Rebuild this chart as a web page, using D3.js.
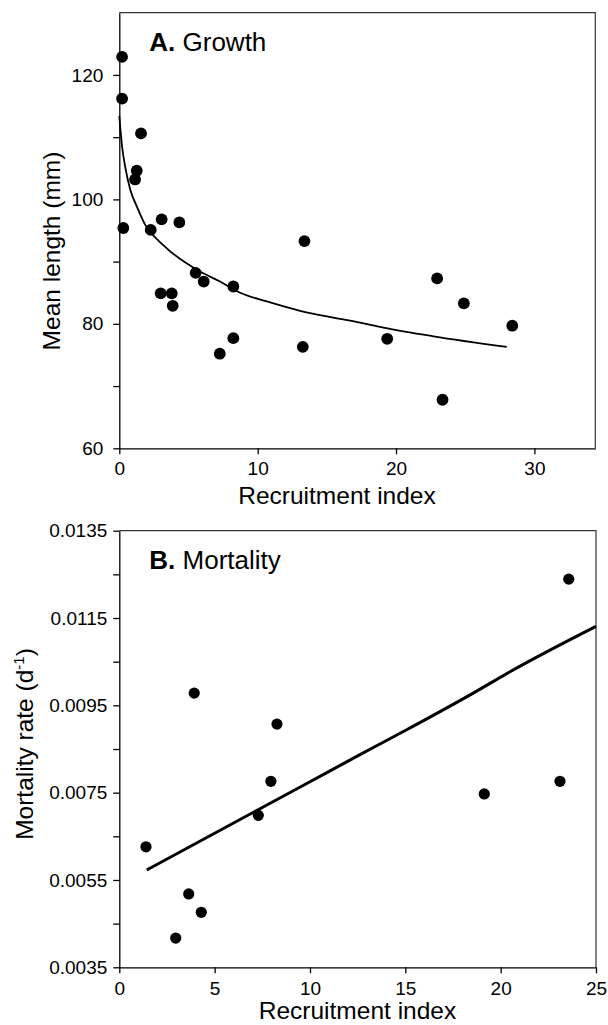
<!DOCTYPE html>
<html>
<head>
<meta charset="utf-8">
<script src="https://cdn.jsdelivr.net/npm/d3@7"></script>
<style>
  body { margin: 0; background: white; }
  svg text { font-family: "Liberation Sans", Arial, sans-serif; fill: black; }
</style>
</head>
<body>
<div id="chart"></div>
<script>

// panel A: growth
var growthX = [ 0.2, 0.2, 1.57, 1.26, 1.14, 0.29, 2.27, 3.06, 4.34, 5.52, 6.1, 2.99,
                3.79, 3.86, 8.24, 8.24, 7.26, 13.26, 13.38, 19.36, 22.97, 24.9, 28.4, 23.36 ];
var growthY = [ 122.9, 116.2, 110.6, 104.6, 103.2, 95.4, 95.1, 96.8, 96.3, 88.2, 86.8, 84.9,
                84.9, 82.9, 86.0, 77.7, 75.2, 76.3, 93.3, 77.6, 87.3, 83.3, 79.7, 67.8 ];
// fitted curve
var growthFitX = [ 0, 0.2, 0.43, 0.8, 1.28, 1.88, 2.24, 3.45, 5.84, 7.28, 8.73, 10.66,
                   13.07, 15.47, 17.4, 19.09, 22.7, 28.0 ];
var growthFitY = [ 113.4, 108.5, 105.2, 101.5, 98.8, 95.9, 94.8, 92.1, 88.4, 86.8, 85.0, 83.6,
                   82.1, 81.0, 80.2, 79.4, 78.0, 76.3 ];
var growthXTicks = [ 0, 10, 20, 30 ];
var growthYTicks = [ 60, 80, 100, 120 ];
var growthYMinor = [ 70, 90, 110 ];

// panel B: mortality
var mortX = [ 3.93, 8.27, 23.57, 1.4, 3.64, 4.3, 2.96, 7.29, 7.95, 19.14, 23.11 ];
var mortY = [ 0.00978, 0.00907, 0.01239, 0.00626, 0.00518, 0.00476, 0.00417, 0.00698,
              0.00776, 0.00747, 0.00776 ];
var mortFitX = [ 1.44, 5.8, 10.0, 12.45, 15.07, 18.56, 20.49, 25.0 ];
var mortFitY = [ 0.00573, 0.00676, 0.00775, 0.00833, 0.00894, 0.00978, 0.01027, 0.01131 ];
var mortXTicks = [ 0, 5, 10, 15, 20, 25 ];
var mortYTicks = [ 0.0035, 0.0055, 0.0075, 0.0095, 0.0115, 0.0135 ];
var mortYMinor = [ 0.0045, 0.0065, 0.0085, 0.0105, 0.0125 ];

var svg = d3.select( "#chart" ).append( "svg" )
    .attr( "width", 608 )
    .attr( "height", 1025 );

function drawPanel( p ) {
    var x = d3.scaleLinear().domain( p.xDomain ).range( [ p.left, p.right ] );
    var y = d3.scaleLinear().domain( p.yDomain ).range( [ p.bottom, p.top ] );
    var g = svg.append( "g" );

    // frame top and right
    g.append( "path" )
        .attr( "d", "M" + p.left + "," + p.top + "H" + p.right + "V" + p.bottom )
        .attr( "fill", "none" )
        .attr( "stroke", "#333" )
        .attr( "stroke-width", 1.2 );

    g.append( "g" )
        .attr( "transform", "translate(0," + p.bottom + ")" )
        .call( d3.axisBottom( x ).tickValues( p.xTicks ).tickSize( 6 ).tickSizeOuter( 0 )
            .tickPadding( p.xPad ) );
    g.append( "g" )
        .attr( "transform", "translate(" + p.left + ",0)" )
        .call( d3.axisLeft( y ).tickValues( p.yTicks ).tickSize( 6 ).tickSizeOuter( 0 )
            .tickPadding( p.yPad ).tickFormat( p.yFormat ) );
    g.append( "g" )
        .attr( "transform", "translate(" + p.left + ",0)" )
        .call( d3.axisLeft( y ).tickValues( p.yMinor ).tickSize( 6 ).tickSizeOuter( 0 )
            .tickFormat( "" ) )
        .select( ".domain" ).remove();

    g.selectAll( ".domain, .tick line" )
        .attr( "stroke", "black" )
        .attr( "stroke-width", 1.3 );
    g.selectAll( ".tick text" )
        .style( "font-size", "19px" )
        .style( "font-family", "'Liberation Sans', Arial, sans-serif" );

    // fitted line
    var fit = p.fitX.map( function ( d, i ) { return [ d, p.fitY[ i ] ]; } );
    g.append( "path" )
        .datum( fit )
        .attr( "fill", "none" )
        .attr( "stroke", "black" )
        .attr( "stroke-width", p.fitWidth )
        .attr( "d", d3.line()
            .x( function ( d ) { return x( d[ 0 ] ); } )
            .y( function ( d ) { return y( d[ 1 ] ); } )
            .curve( d3.curveMonotoneX ) );

    var pts = p.ptsX.map( function ( d, i ) { return [ d, p.ptsY[ i ] ]; } );
    g.selectAll( "circle" )
        .data( pts )
        .enter().append( "circle" )
        .attr( "cx", function ( d ) { return x( d[ 0 ] ); } )
        .attr( "cy", function ( d ) { return y( d[ 1 ] ); } )
        .attr( "r", p.r )
        .attr( "fill", "black" );

    // panel title
    var t = g.append( "text" )
        .attr( "x", p.left + 30 )
        .attr( "y", p.titleY )
        .style( "font-size", "26px" );
    t.append( "tspan" ).style( "font-weight", "bold" ).text( p.titleBold );
    t.append( "tspan" ).text( " " + p.title );

    // x label
    g.append( "text" )
        .attr( "x", p.xLabelX )
        .attr( "y", p.xLabelY )
        .attr( "text-anchor", "middle" )
        .style( "font-size", "24.5px" )
        .text( "Recruitment index" );

    // y label
    var yl = g.append( "text" )
        .attr( "transform", "translate(" + p.yLabelX + "," + p.yLabelY + ") rotate(-90)" )
        .attr( "text-anchor", "middle" )
        .style( "font-size", "24.5px" );
    yl.append( "tspan" ).text( p.yLabel );
    if ( p.yLabelSup ) {
        yl.append( "tspan" ).attr( "dy", -9 ).style( "font-size", "15px" ).text( p.yLabelSup );
        yl.append( "tspan" ).attr( "dy", 9 ).text( ")" );
    }
}

drawPanel( {
    left: 119.3, right: 595.3, top: 12.7, bottom: 448.3,
    xDomain: [ 0, 34.4 ], yDomain: [ 60, 130 ],
    xTicks: growthXTicks, yTicks: growthYTicks, yMinor: growthYMinor,
    xPad: 7, yPad: 10, yFormat: d3.format( "d" ),
    fitX: growthFitX, fitY: growthFitY, fitWidth: 1.8,
    ptsX: growthX, ptsY: growthY, r: 5.9,
    titleBold: "A.", title: "Growth", titleY: 50.7,
    xLabelX: 337, xLabelY: 504,
    yLabel: "Mean length (mm)", yLabelX: 59.5, yLabelY: 251
} );

drawPanel( {
    left: 119.3, right: 596, top: 530.7, bottom: 967.3,
    xDomain: [ 0, 25 ], yDomain: [ 0.0035, 0.0135 ],
    xTicks: mortXTicks, yTicks: mortYTicks, yMinor: mortYMinor,
    xPad: 8, yPad: 6, yFormat: d3.format( ".4f" ),
    fitX: mortFitX, fitY: mortFitY, fitWidth: 3,
    ptsX: mortX, ptsY: mortY, r: 5.6,
    titleBold: "B.", title: "Mortality", titleY: 569.3,
    xLabelX: 357.5, xLabelY: 1019,
    yLabel: "Mortality rate (d", yLabelSup: "-1", yLabelX: 33, yLabelY: 744
} );

</script>
</body>
</html>
